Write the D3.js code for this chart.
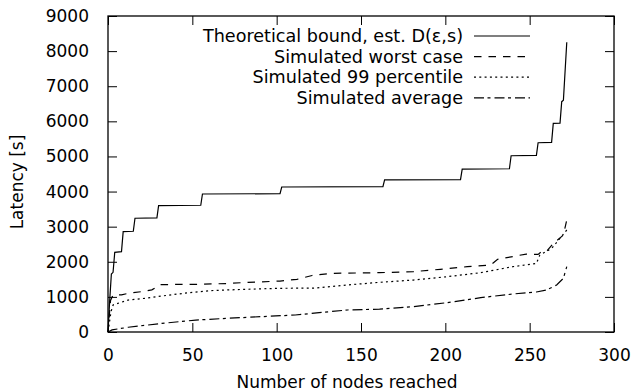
<!DOCTYPE html>
<html>
<head>
<meta charset="utf-8">
<script src="https://cdn.jsdelivr.net/npm/d3@7"></script>
<style>
  body { margin: 0; background: #fff; }
  text { font-family: "DejaVu Sans", sans-serif; fill: #000; }
</style>
</head>
<body>
<div class="chart"></div>
<script>
// series data: [nodes, latency]
var theoretical = [[0,0],[1,900],[2,1650],[3,1700],[4,2270],[8,2290],[9,2860],[15,2870],[16,3240],
  [29,3250],[30,3600],[55,3610],[56,3930],[102,3940],[103,4130],[163,4140],[164,4330],[209,4340],
  [210,4640],[238,4650],[239,5020],[254,5030],[255,5390],[263,5400],[264,5940],[268,5950],
  [269,6560],[270,6600],[272,8250]];
var worstCase = [[0,0],[1.5,900],[3,1050],[8,1060],[12,1100],[20,1150],[26,1200],[31,1350],[55,1360],
  [70,1380],[83,1415],[102,1450],[112,1500],[121,1610],[132,1670],[161,1690],[181,1720],[197,1785],
  [213,1860],[227,1910],[231,2070],[248,2220],[255,2210],[257,2290],[260,2300],[264,2520],[270,2760],[272,3190]];
var percentile99 = [[0,0],[1.8,580],[3,770],[7,835],[12,910],[22,960],[32,1025],[48,1120],[61,1180],
  [81,1215],[102,1245],[122,1250],[142,1340],[161,1415],[181,1480],[201,1575],[221,1690],[240,1860],
  [254,1955],[256,2190],[263,2380],[268,2670],[272,2905]];
var average = [[0,0],[2.4,60],[12,135],[32,245],[52,340],[71,390],[91,437],[111,484],[142,627],
  [161,650],[181,722],[201,835],[221,978],[240,1082],[254,1140],[260,1196],[266,1340],[270,1530],[272,1860]];

var xTicks = [0, 50, 100, 150, 200, 250, 300];
var yTicks = [0, 1000, 2000, 3000, 4000, 5000, 6000, 7000, 8000, 9000];
var legendLabels = ["Theoretical bound, est. D(\u03b5,s)", "Simulated worst case", "Simulated 99 percentile", "Simulated average"];
var dashes = [null, "7.5,7", "2,3.3", "10,3.5,3,4"];

var width = 636, height = 392;
var margin = {left: 108, right: 22, top: 16, bottom: 60};

var svg = d3.select(".chart").append("svg")
    .attr("width", width)
    .attr("height", height);

var x = d3.scaleLinear().domain([0, 300]).range([margin.left, width - margin.right]);
var y = d3.scaleLinear().domain([0, 9000]).range([height - margin.bottom, margin.top]);

var fs = 17;
var fmt = d3.format("d");

// axes with inward ticks on all four sides
svg.append("g")
    .attr("transform", "translate(0," + y(0) + ")")
    .call(d3.axisBottom(x).tickValues(xTicks).tickFormat(fmt).tickSizeInner(-9).tickSizeOuter(0).tickPadding(17))
    .call(g => g.select(".domain").remove())
    .selectAll("text").style("font-size", fs + "px").attr("font-family", null);
svg.append("g")
    .attr("transform", "translate(0," + y(9000) + ")")
    .call(d3.axisTop(x).tickValues(xTicks).tickSizeInner(-9).tickSizeOuter(0).tickFormat(""))
    .call(g => g.select(".domain").remove());
svg.append("g")
    .attr("transform", "translate(" + x(0) + ",0)")
    .call(d3.axisLeft(y).tickValues(yTicks).tickFormat(fmt).tickSizeInner(-9).tickSizeOuter(0).tickPadding(19))
    .call(g => g.select(".domain").remove())
    .selectAll("text").style("font-size", fs + "px").attr("font-family", null);
svg.append("g")
    .attr("transform", "translate(" + x(300) + ",0)")
    .call(d3.axisRight(y).tickValues(yTicks).tickSizeInner(-9).tickSizeOuter(0).tickFormat(""))
    .call(g => g.select(".domain").remove());

svg.selectAll(".tick line").attr("stroke", "#000").attr("stroke-width", 1);

svg.append("rect")
    .attr("x", x(0)).attr("y", y(9000))
    .attr("width", x(300) - x(0)).attr("height", y(0) - y(9000))
    .attr("fill", "none").attr("stroke", "#000").attr("stroke-width", 1.3);

var line = d3.line().x(d => x(d[0])).y(d => y(d[1]));
var series = [theoretical, worstCase, percentile99, average];

svg.selectAll("path.series")
    .data(series)
    .enter().append("path")
    .attr("class", "series")
    .attr("d", line)
    .attr("fill", "none")
    .attr("stroke", "#000")
    .attr("stroke-width", 1.2)
    .attr("stroke-dasharray", (d, i) => dashes[i]);

// legend
var legend = svg.append("g");
legendLabels.forEach(function(lbl, i) {
  var ly = 36 + i * 20.6;
  legend.append("text")
      .attr("x", 463).attr("y", ly)
      .attr("dy", "0.35em")
      .attr("text-anchor", "end")
      .style("font-size", "17.6px")
      .text(lbl);
  legend.append("line")
      .attr("x1", 474).attr("x2", 530)
      .attr("y1", ly).attr("y2", ly)
      .attr("stroke", "#000").attr("stroke-width", 1.2)
      .attr("stroke-dasharray", dashes[i]);
});

svg.append("text")
    .attr("x", 347).attr("y", 388)
    .attr("text-anchor", "middle")
    .style("font-size", fs + "px")
    .text("Number of nodes reached");

svg.append("text")
    .attr("transform", "translate(23,182) rotate(-90)")
    .attr("text-anchor", "middle")
    .style("font-size", fs + "px")
    .text("Latency [s]");
</script>
</body>
</html>
